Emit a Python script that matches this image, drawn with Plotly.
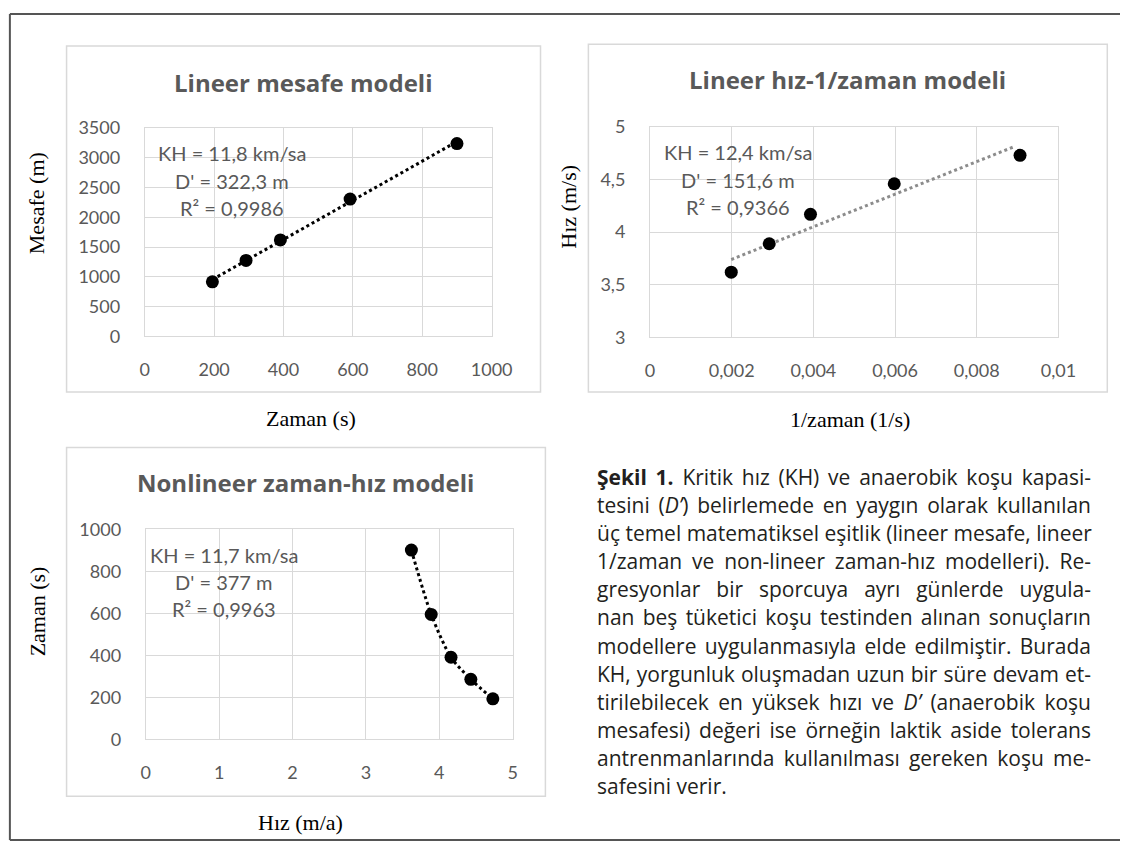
import plotly.graph_objects as go

W, H = 1141, 852

# ---------------- data ----------------
# Chart 1: Lineer mesafe modeli
zaman_1 = [195, 292, 391, 592, 900]
mesafe_1 = [916, 1276, 1619, 2306, 3238]
trend1_x = [195, 900]
trend1_y = [954, 3271]

# Chart 2: Lineer hız-1/zaman modeli
ters_zaman_2 = [0.00199, 0.00292, 0.00393, 0.00598, 0.00906]
hiz_2 = [3.62, 3.89, 4.17, 4.46, 4.73]
trend2_x = [0.00199, 0.0089]
trend2_y = [3.74, 4.81]

# Chart 3: Nonlineer zaman-hız modeli
hiz_3 = [3.62, 3.89, 4.16, 4.43, 4.73]
zaman_3 = [901, 595, 391, 286, 193]

titles = ["Lineer mesafe modeli", "Lineer hız-1/zaman modeli", "Nonlineer zaman-hız modeli"]
xlabels = ["Zaman (s)", "1/zaman (1/s)", "Hız (m/a)"]
ylabels = ["Mesafe (m)", "Hız (m/s)", "Zaman (s)"]
stats_1 = ["KH = 11,8 km/sa", "D' = 322,3 m", "R² = 0,9986"]
stats_2 = ["KH = 12,4 km/sa", "D' = 151,6 m", "R² = 0,9366"]
stats_3 = ["KH = 11,7 km/sa", "D' = 377 m", "R² = 0,9963"]

x1_ticks = [0, 200, 400, 600, 800, 1000]
y1_ticks = [0, 500, 1000, 1500, 2000, 2500, 3000, 3500]
x2_tickvals = [0, 0.002, 0.004, 0.006, 0.008, 0.01]
x2_ticktext = ["0", "0,002", "0,004", "0,006", "0,008", "0,01"]
y2_tickvals = [3, 3.5, 4, 4.5, 5]
y2_ticktext = ["3", "3,5", "4", "4,5", "5"]
x3_ticks = [0, 1, 2, 3, 4, 5]
y3_ticks = [0, 200, 400, 600, 800, 1000]

caption_lines = [
    "<b>Şekil 1.</b> Kritik hız (KH) ve anaerobik koşu kapasi-",
    "tesini (<i>D’</i>) belirlemede en yaygın olarak kullanılan",
    "üç temel matematiksel eşitlik (lineer mesafe, lineer",
    "1/zaman ve non-lineer zaman-hız modelleri). Re-",
    "gresyonlar bir sporcuya ayrı günlerde uygula-",
    "nan beş tüketici koşu testinden alınan sonuçların",
    "modellere uygulanmasıyla elde edilmiştir. Burada",
    "KH, yorgunluk oluşmadan uzun bir süre devam et-",
    "tirilebilecek en yüksek hızı ve <i>D’</i> (anaerobik koşu",
    "mesafesi) değeri ise örneğin laktik aside tolerans",
    "antrenmanlarında kullanılması gereken koşu me-",
    "safesini verir.",
]

# ---------------- helpers ----------------
def px(x):
    return x / W

def py(y):
    return 1 - y / H

GRID = "#d9d9d9"
GRAY = "#595959"
TICKFONT = dict(family="Lato", size=18, color=GRAY)


def axis(domain, rng, tickvals, ticktext=None, standoff=18, anchor=None):
    d = dict(
        domain=domain, range=rng, tickmode="array", tickvals=tickvals,
        showgrid=True, gridcolor=GRID, gridwidth=1,
        showline=True, linecolor=GRID, linewidth=1, mirror=True,
        zeroline=False, ticks="", tickfont=TICKFONT,
        ticklabelstandoff=standoff, fixedrange=True, anchor=anchor,
    )
    if ticktext is not None:
        d["ticktext"] = ticktext
    return d


fig = go.Figure()

marker = dict(color="black", size=13)

# chart 1
fig.add_trace(go.Scatter(x=trend1_x, y=trend1_y, mode="lines",
                         line=dict(color="black", width=3, dash="dot"),
                         xaxis="x", yaxis="y", showlegend=False, hoverinfo="skip"))
fig.add_trace(go.Scatter(x=zaman_1, y=mesafe_1, mode="markers", marker=marker,
                         xaxis="x", yaxis="y", showlegend=False))
# chart 2
fig.add_trace(go.Scatter(x=trend2_x, y=trend2_y, mode="lines",
                         line=dict(color="#8c8c8c", width=3, dash="dot"),
                         xaxis="x2", yaxis="y2", showlegend=False, hoverinfo="skip"))
fig.add_trace(go.Scatter(x=ters_zaman_2, y=hiz_2, mode="markers", marker=marker,
                         xaxis="x2", yaxis="y2", showlegend=False))
# chart 3
fig.add_trace(go.Scatter(x=hiz_3, y=zaman_3, mode="lines",
                         line=dict(color="black", width=3, dash="dot", shape="spline", smoothing=0.8),
                         xaxis="x3", yaxis="y3", showlegend=False, hoverinfo="skip"))
fig.add_trace(go.Scatter(x=hiz_3, y=zaman_3, mode="markers", marker=marker,
                         xaxis="x3", yaxis="y3", showlegend=False))

layout = dict(
    width=W, height=H, margin=dict(l=0, r=0, t=0, b=0),
    paper_bgcolor="white", plot_bgcolor="white", showlegend=False,
    xaxis=axis([px(143), px(498)], [0, 1000], x1_ticks, standoff=17, anchor="y"),
    yaxis=axis([py(333), py(119)], [0, 3500], y1_ticks, standoff=20, anchor="x"),
    xaxis2=axis([px(660), px(1078)], [0, 0.01], x2_tickvals, x2_ticktext, standoff=17, anchor="y2"),
    yaxis2=axis([py(334), py(118)], [3, 5], y2_tickvals, y2_ticktext, standoff=20, anchor="x2"),
    xaxis3=axis([px(144), px(519.5)], [0, 5], x3_ticks, standoff=17, anchor="y3"),
    yaxis3=axis([py(746.7), py(531)], [0, 1000], y3_ticks, standoff=20, anchor="x3"),
)
fig.update_layout(**layout)

shapes = []
# chart boxes
for (x0, y0, x1, y1) in [(63, 35, 548, 390), (597, 33, 1128, 390), (63, 447, 553, 805)]:
    shapes.append(dict(type="rect", xref="paper", yref="paper",
                       x0=px(x0), x1=px(x1), y0=py(y1), y1=py(y0),
                       line=dict(color=GRID, width=1.5), layer="below"))
# outer frame (top, left, bottom)
frame = dict(color="#555555", width=2)
shapes.append(dict(type="line", xref="paper", yref="paper", x0=px(5), x1=1, y0=py(2), y1=py(2), line=frame))
shapes.append(dict(type="line", xref="paper", yref="paper", x0=px(5), x1=px(5), y0=py(2), y1=py(850), line=frame))
shapes.append(dict(type="line", xref="paper", yref="paper", x0=px(5), x1=1, y0=py(850), y1=py(850), line=frame))
fig.update_layout(shapes=shapes)

ann = []

def text(x, y, s, size, color, family, bold=False, angle=0, xanchor="center", align="center"):
    ann.append(dict(x=px(x), y=py(y), xref="paper", yref="paper", text=("<b>%s</b>" % s) if bold else s,
                    showarrow=False, xanchor=xanchor, yanchor="middle", textangle=angle, align=align,
                    font=dict(family=family, size=size, color=color)))

# titles
for (cx, cy), t in zip([(305, 72), (862, 69), (308, 483)], titles):
    text(cx, cy, t, 24, GRAY, "Open Sans", bold=True)
# x labels
for (cx, cy), t in zip([(313, 417), (865, 418), (302, 832)], xlabels):
    text(cx, cy, t, 22, "black", "Liberation Serif")
# y labels
for (cx, cy), t in zip([(33, 196), (577, 200), (33, 615)], ylabels):
    text(cx, cy, t, 22, "black", "Liberation Serif", angle=-90)
# stats
for (cx, cy0), lines in zip([(232, 145), (750, 144), (224, 557)], [stats_1, stats_2, stats_3]):
    for i, s in enumerate(lines):
        text(cx, cy0 + 28 * i, s, 20, GRAY, "Lato")
# caption (left aligned; justified afterwards in the browser)
for i, s in enumerate(caption_lines):
    text(604, 477 + 28.9 * i, s, 21, "#231f20", "Open Sans", xanchor="left", align="left")

fig.update_layout(annotations=ann)

justify_js = """
document.body.style.margin='0';
document.body.style.overflow='hidden';
var gd = document.getElementById('{plot_id}');
var groups = gd.querySelectorAll('g.annotation');
var n = groups.length;
var target = 494;
for (var k = n - %d; k < n - 1; k++) {
  var t = groups[k].querySelector('text.annotation-text');
  if (!t) continue;
  var len = t.getComputedTextLength();
  var sp = (t.textContent.match(/ /g) || []).length;
  if (sp > 0 && len < target) {
    t.style.wordSpacing = ((target - len) / sp) + 'px';
  }
}
""" % len(caption_lines)

fig.write_html("out.html", config={"displayModeBar": False}, post_script=justify_js)
